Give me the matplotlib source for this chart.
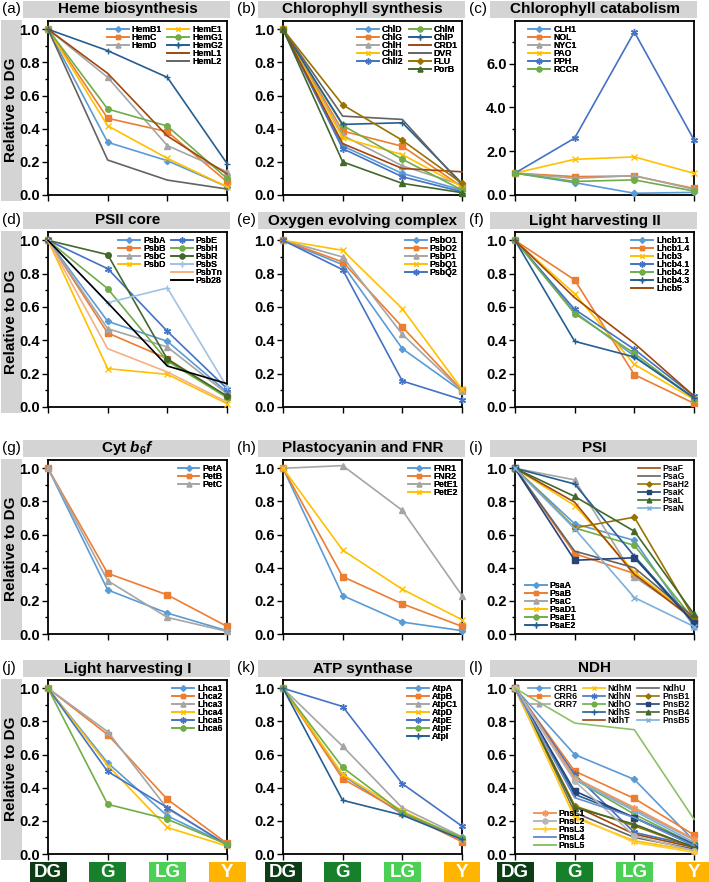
import matplotlib
matplotlib.use('Agg')
import matplotlib.pyplot as plt
from matplotlib.patches import Rectangle
from matplotlib.lines import Line2D
from matplotlib.ticker import MultipleLocator, FormatStrFormatter

plt.rcParams['font.family'] = ['Liberation Sans', 'DejaVu Sans']
plt.rcParams['mathtext.fontset'] = 'custom'
plt.rcParams['mathtext.it'] = 'Liberation Sans:italic:bold'
plt.rcParams['mathtext.rm'] = 'Liberation Sans:bold'

# ---------------- data ----------------
stages = ['DG', 'G', 'LG', 'Y']

heme_names = ['HemB1', 'HemC', 'HemD', 'HemE1', 'HemG1', 'HemG2', 'HemL1', 'HemL2']
heme_vals = [[1, 0.318, 0.207, 0.05], [1, 0.463, 0.382, 0.08], [1, 0.71, 0.298, 0.14],
             [1, 0.418, 0.221, 0.05], [1, 0.519, 0.416, 0.10], [1, 0.871, 0.71, 0.19],
             [1, 0.734, 0.356, 0.127], [1, 0.211, 0.09, 0.036]]

chl_names = ['ChlD', 'ChlG', 'ChlH', 'ChlI1', 'ChlI2', 'ChlM', 'ChlP', 'CRD1', 'DVR', 'FLU', 'PorB']
chl_vals = [[1, 0.296, 0.13, 0.03], [1, 0.386, 0.294, 0.05], [1, 0.36, 0.176, 0.06],
            [1, 0.345, 0.244, 0.05], [1, 0.28, 0.11, 0.02], [1, 0.42, 0.216, 0.03],
            [1, 0.426, 0.436, 0.07], [1, 0.31, 0.16, 0.14], [1, 0.476, 0.456, 0.06],
            [1, 0.544, 0.33, 0.07], [1, 0.20, 0.07, 0.014]]

cat_names = ['CLH1', 'NOL', 'NYC1', 'PAO', 'PPH', 'RCCR']
cat_vals = [[1, 0.565, 0.08, 0.12], [1, 0.84, 0.87, 0.30], [1, 0.76, 0.885, 0.26],
            [1, 1.63, 1.74, 0.99], [1, 2.60, 7.45, 2.52], [1, 0.62, 0.69, 0.18]]

psii_names = ['PsbA', 'PsbB', 'PsbC', 'PsbD', 'PsbE', 'PsbH', 'PsbR', 'PsbS', 'PsbTn', 'Psb28']
psii_vals = [[1, 0.514, 0.394, 0.09], [1, 0.444, 0.29, 0.06], [1, 0.47, 0.36, 0.08],
             [1, 0.23, 0.196, 0.02], [1, 0.83, 0.454, 0.11], [1, 0.71, 0.276, 0.056],
             [1, 0.914, 0.286, 0.066], [1, 0.626, 0.714, 0.12], [1, 0.35, 0.21, 0.03],
             [1, 0.626, 0.246, 0.14]]

oec_names = ['PsbO1', 'PsbO2', 'PsbP1', 'PsbQ1', 'PsbQ2']
oec_vals = [[1, 0.854, 0.35, 0.094], [1, 0.87, 0.48, 0.10], [1, 0.90, 0.436, 0.096],
            [1, 0.94, 0.59, 0.106], [1, 0.824, 0.156, 0.044]]

lhcb_names = ['Lhcb1.1', 'Lhcb1.4', 'Lhcb3', 'Lhcb4.1', 'Lhcb4.2', 'Lhcb4.3', 'Lhcb5']
lhcb_vals = [[1, 0.57, 0.306, 0.05], [1, 0.762, 0.194, 0.022], [1, 0.68, 0.256, 0.046],
             [1, 0.586, 0.346, 0.066], [1, 0.56, 0.322, 0.05], [1, 0.394, 0.30, 0.056],
             [1, 0.656, 0.382, 0.066]]

cyt_names = ['PetA', 'PetB', 'PetC']
cyt_vals = [[1, 0.266, 0.126, 0.02], [1, 0.366, 0.236, 0.046], [1, 0.322, 0.10, 0.016]]

pc_names = ['FNR1', 'FNR2', 'PetE1', 'PetE2']
pc_vals = [[1, 0.232, 0.072, 0.02], [1, 0.346, 0.182, 0.046], [1, 1.016, 0.746, 0.232],
           [1, 0.506, 0.27, 0.086]]

psi_names = ['PsaA', 'PsaB', 'PsaC', 'PsaD1', 'PsaE1', 'PsaE2',
             'PsaF', 'PsaG', 'PsaH2', 'PsaK', 'PsaL', 'PsaN']
psi_vals = [[1, 0.665, 0.565, 0.045], [1, 0.485, 0.365, 0.09], [1, 0.93, 0.345, 0.10],
            [1, 0.775, 0.375, 0.095], [1, 0.64, 0.535, 0.085], [1, 0.905, 0.47, 0.07],
            [1, 0.795, 0.36, 0.085], [1, 0.50, 0.40, 0.10], [1, 0.64, 0.705, 0.095],
            [1, 0.445, 0.46, 0.065], [1, 0.83, 0.62, 0.12], [1, 0.635, 0.22, 0.045]]

lhca_names = ['Lhca1', 'Lhca2', 'Lhca3', 'Lhca4', 'Lhca5', 'Lhca6']
lhca_vals = [[1, 0.55, 0.23, 0.058], [1, 0.72, 0.33, 0.064], [1, 0.738, 0.274, 0.058],
             [1, 0.534, 0.16, 0.048], [1, 0.498, 0.28, 0.054], [1, 0.30, 0.21, 0.058]]

atp_names = ['AtpA', 'AtpB', 'AtpC1', 'AtpD', 'AtpE', 'AtpF', 'AtpI']
atp_vals = [[1, 0.474, 0.24, 0.10], [1, 0.454, 0.25, 0.074], [1, 0.65, 0.278, 0.104],
            [1, 0.48, 0.26, 0.09], [1, 0.89, 0.424, 0.168], [1, 0.522, 0.25, 0.098],
            [1, 0.324, 0.234, 0.088]]

ndh_names = ['CRR1', 'CRR6', 'CRR7', 'NdhM', 'NdhN', 'NdhO', 'NdhS', 'NdhT', 'NdhU',
             'PnsB1', 'PnsB2', 'PnsB4', 'PnsB5', 'PnsL1', 'PnsL2', 'PnsL3', 'PnsL4', 'PnsL5']
ndh_vals = [[1, 0.60, 0.45, 0.08], [1, 0.50, 0.335, 0.115], [1, 0.46, 0.27, 0.085],
            [1, 0.22, 0.08, 0.02], [1, 0.48, 0.13, 0.05], [1, 0.45, 0.24, 0.06],
            [1, 0.36, 0.22, 0.06], [1, 0.29, 0.12, 0.04], [1, 0.25, 0.10, 0.03],
            [1, 0.29, 0.17, 0.04], [1, 0.38, 0.22, 0.05], [1, 0.28, 0.18, 0.04],
            [1, 0.45, 0.26, 0.07], [1, 0.46, 0.28, 0.09], [1, 0.44, 0.11, 0.02],
            [1, 0.23, 0.07, 0.01], [1, 0.34, 0.22, 0.05], [1, 0.79, 0.75, 0.21]]

# ---------------- styles ----------------
ASTER = (6, 2, 0)
STYLES = {
    1: ('#5B9BD5', 'D'), 2: ('#ED7D31', 's'), 3: ('#A5A5A5', '^'), 4: ('#FFC000', 'x'),
    5: ('#4472C4', ASTER), 6: ('#70AD47', 'o'), 7: ('#255E91', '+'), 8: ('#9E480E', None),
    9: ('#636363', None), 10: ('#997300', 'D'), 11: ('#264478', 's'), 12: ('#43682B', '^'),
    13: ('#7CAFDD', 'x'), 14: ('#F1975A', ASTER), 15: ('#B7B7B7', 'o'), 16: ('#FFCD33', '+'),
    17: ('#698ED0', None), 18: ('#8CC168', None),
    21: ('#43682B', 'o'), 22: ('#9DC3E6', '+'), 23: ('#F4B183', None), 24: ('#000000', None),
}
MSIZE = {'D': 3.2, 's': 4, '^': 4, 'x': 4, 'o': 4, '+': 5, ASTER: 5}

heme_sty = [1, 2, 3, 4, 6, 7, 8, 9]
chl_sty = [1, 2, 3, 4, 5, 6, 7, 8, 9, 10, 12]
cat_sty = [1, 2, 3, 4, 5, 6]
psii_sty = [1, 2, 3, 4, 5, 6, 21, 22, 23, 24]
oec_sty = [1, 2, 3, 4, 5]
lhcb_sty = [1, 2, 4, 5, 6, 7, 8]
cyt_sty = [1, 2, 3]
pc_sty = [1, 2, 3, 4]
psi_sty = [1, 2, 3, 4, 6, 7, 8, 9, 10, 11, 12, 13]
lhca_sty = [1, 2, 3, 4, 5, 6]
atp_sty = [1, 2, 3, 4, 5, 6, 7]
ndh_sty = list(range(1, 19))

W, H = 709, 882
fig = plt.figure(figsize=(W / 100, H / 100), dpi=100)

col_left = [48, 283, 515]
ax_w = 179
row_tb = [(21, 195), (232, 407), (460, 634), (680, 854)]
TITLE_GREY = '#d4d4d4'


def fx(x):
    return x / W


def fy(y):
    return 1 - y / H


def add_rect(x0, y0, x1, y1, color):
    fig.add_artist(Rectangle((fx(x0), fy(y1)), fx(x1) - fx(x0), fy(y0) - fy(y1),
                             transform=fig.transFigure, facecolor=color,
                             edgecolor='none', zorder=0))


blank = Line2D([], [], linestyle='none', marker=None)


def make_handles(names, sty):
    hs = []
    for n, s in zip(names, sty):
        c, m = STYLES[s]
        hs.append(Line2D([], [], color=c, marker=m, markersize=MSIZE.get(m, 0) * 0.85,
                         linewidth=1.2, label=n))
    return hs


def leg(ax, handles, labels, ncol=1, loc='upper right', anchor=None):
    kw = dict(loc=loc, ncol=ncol, frameon=False,
              prop={'weight': 'bold', 'size': 6.3}, handlelength=2.5,
              handletextpad=0.35, labelspacing=-0.12, columnspacing=0.6,
              borderaxespad=0.3, borderpad=0.2)
    if anchor is not None:
        kw['bbox_to_anchor'] = anchor
    lg = ax.legend(handles, labels, **kw)
    ax.add_artist(lg)
    return lg


def panel(col, row, letter, title, names, vals, sty, ylim=(0, 1.05), major=0.2, minor=0.1):
    top, bot = row_tb[row]
    L = col_left[col]
    ax = fig.add_axes([fx(L), fy(bot), fx(ax_w), (bot - top) / H])
    x = list(range(len(stages)))
    for n, v, s in zip(names, vals, sty):
        c, m = STYLES[s]
        ax.plot(x, v, color=c, marker=m, markersize=MSIZE.get(m, 0), linewidth=1.2,
                clip_on=False, zorder=3)
    ax.set_xlim(0, 3)
    ax.set_ylim(*ylim)
    ax.set_xticks(x)
    ax.set_xticklabels([])
    ax.yaxis.set_major_locator(MultipleLocator(major))
    ax.yaxis.set_minor_locator(MultipleLocator(minor))
    ax.yaxis.set_major_formatter(FormatStrFormatter('%.1f'))
    ax.tick_params(axis='both', which='major', direction='out', length=4, width=1,
                   labelsize=10.5, pad=2)
    ax.tick_params(axis='y', which='minor', direction='out', length=2.5, width=1)
    for lab in ax.get_yticklabels():
        lab.set_fontweight('bold')
    for sp in ax.spines.values():
        sp.set_linewidth(1.3)
    # title bar
    add_rect(L - 25, top - 20, L + ax_w + 3, top - 3, TITLE_GREY)
    fig.text(fx(L + ax_w / 2 - 10), fy(top - 11.5), title, ha='center', va='center',
             fontsize=11, fontweight='bold')
    fig.text(fx(L - 46), fy(top - 12), letter, ha='left', va='center', fontsize=11)
    if col == 0:
        add_rect(1, top - 1, 22, bot + 6, TITLE_GREY)
        fig.text(fx(11.5), fy((top + bot) / 2 + 2), 'Relative to DG', rotation=90,
                 ha='center', va='center', fontsize=11, fontweight='bold')
    return ax


# (a)
ax = panel(0, 0, '(a)', 'Heme biosynthesis', heme_names, heme_vals, heme_sty)
h = make_handles(heme_names, heme_sty)
leg(ax, h[:3] + [blank, blank] + h[3:], heme_names[:3] + ['', ''] + heme_names[3:], ncol=2)

# (b)
ax = panel(1, 0, '(b)', 'Chlorophyll synthesis', chl_names, chl_vals, chl_sty)
h = make_handles(chl_names, chl_sty)
leg(ax, h[:5] + [blank] + h[5:], chl_names[:5] + [''] + chl_names[5:], ncol=2)

# (c)
ax = panel(2, 0, '(c)', 'Chlorophyll catabolism', cat_names, cat_vals, cat_sty,
           ylim=(0, 7.95), major=2.0, minor=1.0)
leg(ax, make_handles(cat_names, cat_sty), cat_names, loc='upper left', anchor=(0.05, 1.0))

# (d)
ax = panel(0, 1, '(d)', 'PSII core', psii_names, psii_vals, psii_sty)
h = make_handles(psii_names, psii_sty)
leg(ax, h[:4] + [blank, blank] + h[4:], psii_names[:4] + ['', ''] + psii_names[4:], ncol=2)

# (e)
ax = panel(1, 1, '(e)', 'Oxygen evolving complex', oec_names, oec_vals, oec_sty)
leg(ax, make_handles(oec_names, oec_sty), oec_names)

# (f)
ax = panel(2, 1, '(f)', 'Light harvesting II', lhcb_names, lhcb_vals, lhcb_sty)
leg(ax, make_handles(lhcb_names, lhcb_sty), lhcb_names)

# (g)
ax = panel(0, 2, '(g)', r'Cyt $b_6f$', cyt_names, cyt_vals, cyt_sty)
leg(ax, make_handles(cyt_names, cyt_sty), cyt_names)

# (h)
ax = panel(1, 2, '(h)', 'Plastocyanin and FNR', pc_names, pc_vals, pc_sty)
leg(ax, make_handles(pc_names, pc_sty), pc_names)

# (i)
ax = panel(2, 2, '(i)', 'PSI', psi_names, psi_vals, psi_sty)
h = make_handles(psi_names, psi_sty)
leg(ax, h[6:], psi_names[6:])
leg(ax, h[:6], psi_names[:6], loc='lower left', anchor=(0.03, 0.0))

# (j)
ax = panel(0, 3, '(j)', 'Light harvesting I', lhca_names, lhca_vals, lhca_sty)
leg(ax, make_handles(lhca_names, lhca_sty), lhca_names)

# (k)
ax = panel(1, 3, '(k)', 'ATP synthase', atp_names, atp_vals, atp_sty)
leg(ax, make_handles(atp_names, atp_sty), atp_names)

# (l)
ax = panel(2, 3, '(l)', 'NDH', ndh_names, ndh_vals, ndh_sty)
h = make_handles(ndh_names, ndh_sty)
leg(ax, h[:3] + [blank, blank] + h[3:13], ndh_names[:3] + ['', ''] + ndh_names[3:13], ncol=3)
leg(ax, h[13:], ndh_names[13:], loc='lower left', anchor=(0.08, 0.0))

# stage label boxes under the bottom row
stage_colors = ['#0d3d17', '#17802b', '#4ccf55', '#ffb400']
for L in col_left:
    for i, (s, c) in enumerate(zip(stages, stage_colors)):
        cx = L + i * ax_w / 3
        add_rect(cx - 18.5, 862, cx + 18.5, 882, c)
        fig.text(fx(cx), fy(872.5), s, ha='center', va='center', color='white',
                 fontsize=13.5, fontweight='bold')

fig.savefig('out.png', dpi=100)
